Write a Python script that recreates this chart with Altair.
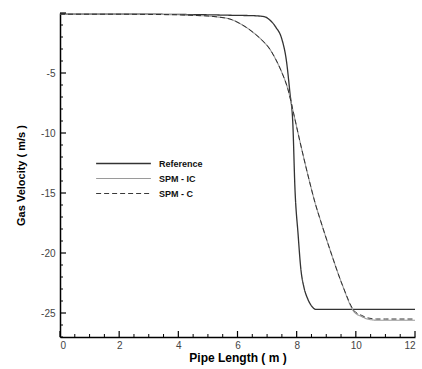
import altair as alt
import pandas as pd

series_names = ["Reference", "SPM - IC", "SPM - C"]

ref_x = [0, 1, 2, 3, 4, 5, 6, 6.5, 6.9, 7.1, 7.3, 7.49, 7.66, 7.77, 7.87, 7.94, 8.05, 8.14, 8.25, 8.37, 8.5, 8.65, 9, 10, 11, 12]
ref_y = [-0.1, -0.1, -0.1, -0.1, -0.12, -0.15, -0.2, -0.22, -0.3, -0.6, -1.2, -2.1, -4.1, -6.6, -9.2, -14.5, -18.5, -21.3, -22.9, -23.8, -24.4, -24.7, -24.7, -24.7, -24.7, -24.7]

ic_x = [0, 1, 2, 3, 4, 4.5, 5, 5.4, 5.74, 6.1, 6.52, 6.8, 7.09, 7.3, 7.49, 7.71, 7.9, 8.11, 8.42, 8.62, 8.82, 9.15, 9.55, 9.94, 10.2, 10.39, 10.7, 11, 12]
ic_y = [-0.1, -0.1, -0.1, -0.12, -0.15, -0.2, -0.25, -0.35, -0.5, -0.9, -1.6, -2.2, -3.0, -3.9, -4.9, -6.4, -8.4, -10.7, -13.9, -15.8, -17.4, -19.9, -22.7, -24.9, -25.3, -25.5, -25.6, -25.6, -25.6]

c_x = [0, 1, 2, 3, 4, 4.5, 5, 5.4, 5.74, 6.1, 6.52, 6.8, 7.09, 7.3, 7.49, 7.71, 7.9, 8.11, 8.42, 8.62, 8.82, 9.15, 9.55, 9.94, 10.2, 10.39, 10.7, 11, 12]
c_y = [-0.1, -0.1, -0.1, -0.12, -0.15, -0.2, -0.25, -0.35, -0.5, -0.9, -1.6, -2.2, -3.0, -3.9, -4.9, -6.4, -8.4, -10.7, -13.9, -15.8, -17.4, -19.9, -22.7, -24.8, -25.2, -25.4, -25.5, -25.5, -25.5]

x_major = [0, 2, 4, 6, 8, 10, 12]
x_minor = [v / 2 for v in range(0, 25) if v % 4 != 0]
y_major = [0, -5, -10, -15, -20, -25]
y_minor = [-v for v in range(0, 28) if v % 5 != 0]

rows = []
for name, xs, ys in [("Reference", ref_x, ref_y), ("SPM - IC", ic_x, ic_y), ("SPM - C", c_x, c_y)]:
    for i, (a, b) in enumerate(zip(xs, ys)):
        rows.append({"series": name, "x": a, "y": b, "order": i})
df = pd.DataFrame(rows)

W, H = 355, 324
xscale = alt.Scale(domain=[0, 12], nice=False, zero=False)
yscale = alt.Scale(domain=[-27, 0], nice=False, zero=False)

leg = alt.Legend(
    title=None, orient="none", legendX=59, legendY=146,
    symbolType="M-10,0H10", symbolSize=30, labelOffset=31,
    labelFont="Liberation Sans", labelFontWeight="bold", labelFontSize=9,
    labelColor="#111", rowPadding=5, symbolStrokeWidth=1.2,
)

lines = alt.Chart(df).mark_line(interpolate="monotone").encode(
    x=alt.X("x:Q", scale=xscale, axis=alt.Axis(
        values=x_major, title="Pipe Length ( m )", ticks=False, grid=False,
        labelPadding=3, labelFontSize=10, labelColor="#444", labelFont="Liberation Sans",
        labelExpr="toString(datum.value)",
        domainColor="#000", domainWidth=1.5, titleFont="Liberation Sans",
        titleFontSize=12, titleFontWeight="bold", titlePadding=2, titleColor="#000")),
    y=alt.Y("y:Q", scale=yscale, axis=alt.Axis(
        values=[-5, -10, -15, -20, -25], title="Gas Velocity ( m/s )", ticks=False, grid=False,
        labelPadding=5, labelFontSize=10, labelColor="#444", labelFont="Liberation Sans",
        labelExpr="toString(datum.value)",
        domainColor="#000", domainWidth=1.5, titleFont="Liberation Sans",
        titleFontSize=11, titleFontWeight="bold", titlePadding=14, titleColor="#000")),
    color=alt.Color("series:N", scale=alt.Scale(domain=series_names, range=["#333333", "#9a9a9a", "#222222"]), legend=leg),
    strokeDash=alt.StrokeDash("series:N", scale=alt.Scale(domain=series_names, range=[[1, 0], [1, 0], [5, 3]]), legend=leg),
    strokeWidth=alt.StrokeWidth("series:N", scale=alt.Scale(domain=series_names, range=[1.3, 0.9, 1.3]), legend=leg),
    order="order:Q",
)

xmaj = alt.Chart(pd.DataFrame({"x": x_major})).mark_rule(color="#000", strokeWidth=1.2).encode(
    x=alt.X("x:Q", scale=xscale), y=alt.value(H), y2=alt.value(H - 6))
xmin = alt.Chart(pd.DataFrame({"x": x_minor})).mark_rule(color="#000", strokeWidth=1).encode(
    x=alt.X("x:Q", scale=xscale), y=alt.value(H), y2=alt.value(H - 3))
ymaj = alt.Chart(pd.DataFrame({"y": y_major})).mark_rule(color="#000", strokeWidth=1.2).encode(
    y=alt.Y("y:Q", scale=yscale), x=alt.value(0), x2=alt.value(6))
ymin = alt.Chart(pd.DataFrame({"y": y_minor})).mark_rule(color="#000", strokeWidth=1).encode(
    y=alt.Y("y:Q", scale=yscale), x=alt.value(0), x2=alt.value(3))

chart = alt.layer(lines, xmaj, xmin, ymaj, ymin).properties(
    width=W, height=H,
    autosize=alt.AutoSizeParams(type="none"),
    padding={"left": 60, "top": 13, "right": 7, "bottom": 32},
    background="white",
).configure_view(stroke=None)

chart.save("out.html", embed_options={"renderer": "svg", "actions": False})
